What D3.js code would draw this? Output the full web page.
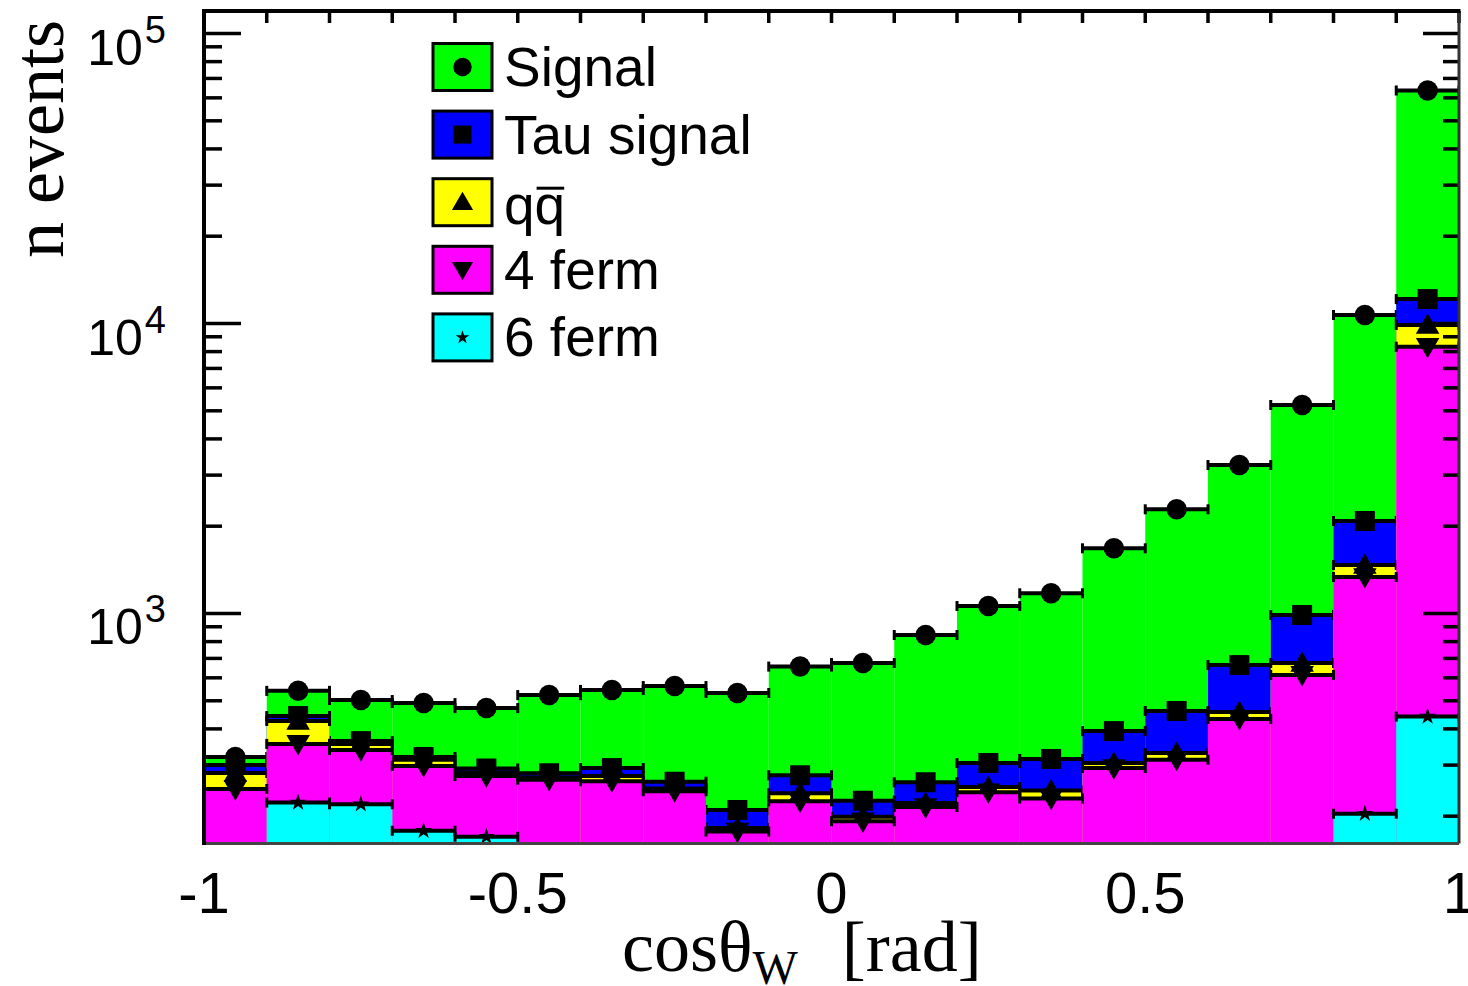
<!DOCTYPE html>
<html>
<head>
<meta charset="utf-8">
<script src="https://cdn.jsdelivr.net/npm/d3@7/dist/d3.min.js"></script>
<style>
  html, body { margin: 0; padding: 0; background: #ffffff; }
  svg { display: block; }
</style>
</head>
<body>
<svg id="chart" width="1468" height="986"></svg>
<script>
// Bin edges of cos(theta_W), 20 bins
const binEdges = [-1.0, -0.9, -0.8, -0.7, -0.6, -0.5, -0.4, -0.3, -0.2, -0.1, 0.0,
                   0.1,  0.2,  0.3,  0.4,  0.5,  0.6,  0.7,  0.8,  0.9, 1.0];

// Event counts per bin for each process
const signal   = [20, 98, 140, 171, 180, 242, 252, 299, 322, 379, 449, 581, 756, 859, 1285, 1826, 2587, 4248, 8616, 51460];
const tauSig   = [18, 17, 8, 7, 9, 9, 18, 14, 28, 37, 27, 40, 53, 70, 88, 131, 207, 313, 614, 2255];
const qqbar    = [34, 71, 17, 15, 8, 5, 11, 5, 5, 15, 7, 7, 10, 15, 12, 17, 24, 61, 134, 1567];
const fourFerm = [118, 132, 118, 120, 105, 127, 144, 144, 87, 140, 112, 130, 152, 135, 193, 203, 313, 474, 1132, 7877];
const sixFerm  = [130, 223, 220, 178, 170, 140, 120, 100, 90, 85, 80, 85, 90, 95, 100, 110, 120, 140, 204, 441];

// Axis ticks and labels
const xTickValues = [-1, -0.5, 0, 0.5, 1];
const xTickLabels = ["-1", "-0.5", "0", "0.5", "1"];
const yTickValues = [1e3, 1e4, 1e5];
const yTickExponents = ["3", "4", "5"];

// Process table, stacked bottom to top
const processes = [
  { key: "sixFerm",  label: "6 ferm",     values: sixFerm,  color: "#00ffff", marker: "star" },
  { key: "fourFerm", label: "4 ferm",     values: fourFerm, color: "#ff00ff", marker: "triDown" },
  { key: "qqbar",    label: "qq",         values: qqbar,    color: "#ffff00", marker: "triUp" },
  { key: "tauSig",   label: "Tau signal", values: tauSig,   color: "#0000ff", marker: "square" },
  { key: "signal",   label: "Signal",     values: signal,   color: "#00ff00", marker: "circle" }
];

const svg = d3.select("#chart");
const frame = { left: 204, right: 1459, top: 11, bottom: 843.5 };

const x = d3.scaleLinear().domain([-1, 1]).range([frame.left, frame.right]);
const y = d3.scaleLog().domain([161, 119580]).range([frame.bottom, frame.top]);

const bins = d3.range(binEdges.length - 1).map(i => ({ lo: binEdges[i], hi: binEdges[i + 1] }));
const rows = bins.map((b, i) => {
  const r = { i };
  processes.forEach(p => { r[p.key] = p.values[i]; });
  return r;
});
const stacked = d3.stack().keys(processes.map(p => p.key))(rows);

svg.append("defs").append("clipPath").attr("id", "plotClip")
  .append("rect")
  .attr("x", frame.left).attr("y", frame.top)
  .attr("width", frame.right - frame.left).attr("height", frame.bottom - frame.top);

// Left axis ticks (drawn beneath the histograms)
const yTicksAll = y.ticks();
const isMajor = v => Math.abs(Math.log10(v) - Math.round(Math.log10(v))) < 1e-9;
svg.append("g").selectAll("line").data(yTicksAll).join("line")
  .attr("x1", frame.left).attr("x2", d => frame.left + (isMajor(d) ? 37 : 18))
  .attr("y1", d => y(d)).attr("y2", d => y(d))
  .attr("stroke", "#000").attr("stroke-width", 3.5);

// Marker symbols
const symbolFor = {
  circle:  d3.symbol().type(d3.symbolCircle).size(330),
  square:  d3.symbol().type(d3.symbolSquare).size(400),
  triUp:   d3.symbol().type(d3.symbolTriangle).size(240),
  triDown: d3.symbol().type(d3.symbolTriangle).size(240),
  star:    d3.symbol().type(d3.symbolStar).size(90)
};
function drawMarker(g, kind, cx, cy, scale) {
  const s = scale || 1;
  const rot = kind === "triDown" ? 180 : 0;
  let dy = 0;
  if (kind === "triUp") dy = 2 * s;
  if (kind === "triDown") dy = -2 * s;
  g.append("path")
    .attr("d", symbolFor[kind]())
    .attr("transform", `translate(${cx},${cy + dy}) rotate(${rot}) scale(${s})`)
    .attr("fill", "#000");
}

// Stacked histogram: each cumulative layer drawn from the top down, as filled bins with markers
const plot = svg.append("g").attr("clip-path", "url(#plotClip)");
for (let li = processes.length - 1; li >= 0; li--) {
  const p = processes[li];
  const layer = stacked[li];
  const g = plot.append("g");
  g.selectAll("rect").data(bins).join("rect")
    .attr("x", d => x(d.lo))
    .attr("width", d => x(d.hi) - x(d.lo))
    .attr("y", (d, i) => Math.min(y(layer[i][1]), frame.bottom))
    .attr("height", (d, i) => Math.max(0, frame.bottom - y(layer[i][1])))
    .attr("fill", p.color);
  const eg = plot.append("g");
  bins.forEach((b, i) => {
    const yy = y(layer[i][1]);
    const x0 = x(b.lo), x1 = x(b.hi);
    eg.append("line").attr("x1", x0).attr("x2", x1).attr("y1", yy).attr("y2", yy)
      .attr("stroke", "#000").attr("stroke-width", 4);
    [x0, x1].forEach(xc => {
      eg.append("line").attr("x1", xc).attr("x2", xc).attr("y1", yy - 5).attr("y2", yy + 5)
        .attr("stroke", "#000").attr("stroke-width", 3);
    });
    drawMarker(eg, p.marker, (x0 + x1) / 2, yy, 1);
  });
}

// Top axis ticks
svg.append("g").selectAll("line").data(binEdges).join("line")
  .attr("x1", d => x(d)).attr("x2", d => x(d))
  .attr("y1", frame.top).attr("y2", frame.top + 12)
  .attr("stroke", "#000").attr("stroke-width", 3.5);

// Right axis ticks
svg.append("g").selectAll("line").data(yTicksAll).join("line")
  .attr("x1", frame.right).attr("x2", d => frame.right - (isMajor(d) ? 36 : 16))
  .attr("y1", d => y(d)).attr("y2", d => y(d))
  .attr("stroke", "#000").attr("stroke-width", 3.5);

// Frame
svg.append("line").attr("x1", frame.right).attr("x2", frame.right)
  .attr("y1", frame.top).attr("y2", frame.bottom).attr("stroke", "#333").attr("stroke-width", 3);
svg.append("line").attr("x1", frame.left).attr("x2", frame.right)
  .attr("y1", frame.bottom).attr("y2", frame.bottom).attr("stroke", "#444").attr("stroke-width", 3);
svg.append("line").attr("x1", frame.left).attr("x2", frame.left)
  .attr("y1", frame.top - 2).attr("y2", frame.bottom + 1.5).attr("stroke", "#000").attr("stroke-width", 4);
svg.append("line").attr("x1", frame.left - 2).attr("x2", frame.right + 1.5)
  .attr("y1", frame.top).attr("y2", frame.top).attr("stroke", "#000").attr("stroke-width", 4);

// X tick labels
svg.append("g").selectAll("text").data(xTickValues).join("text")
  .attr("x", d => x(d)).attr("y", 913)
  .attr("text-anchor", "middle")
  .attr("font-family", "Liberation Sans, Arial, sans-serif")
  .attr("font-size", 58)
  .text((d, i) => xTickLabels[i]);

// Y tick labels: 10^n
const yl = svg.append("g").selectAll("text").data(yTickValues).join("text")
  .attr("x", 166).attr("y", d => y(d) + 31)
  .attr("text-anchor", "end")
  .attr("font-family", "Liberation Sans, Arial, sans-serif")
  .attr("font-size", 50);
yl.append("tspan").text("10");
yl.append("tspan").attr("font-size", 38).attr("dx", 2).attr("dy", -22).text((d, i) => yTickExponents[i]);

// Axis titles
svg.append("text")
  .attr("transform", "translate(63,20) rotate(-90)")
  .attr("text-anchor", "end")
  .attr("font-family", "Liberation Serif, Times New Roman, serif")
  .attr("font-size", 72)
  .text("n events");

const xt = svg.append("text")
  .attr("x", 622).attr("y", 971)
  .attr("font-family", "Liberation Serif, Times New Roman, serif")
  .attr("font-size", 72);
xt.append("tspan").text("cosθ");
xt.append("tspan").attr("font-size", 48).attr("dy", 13).text("W");
xt.append("tspan").attr("dy", -13).attr("dx", 26).text(" [rad]");

// Legend
const legendOrder = processes.slice().reverse();
const leg = svg.append("g");
legendOrder.forEach((p, i) => {
  const cy = 67 + i * 67.6;
  leg.append("rect")
    .attr("x", 433).attr("y", cy - 23.5).attr("width", 59).attr("height", 47)
    .attr("fill", p.color).attr("stroke", "#000").attr("stroke-width", 3);
  const markerScale = p.marker === "star" ? 0.8 : 0.9;
  drawMarker(leg, p.marker, 462.5, cy, markerScale);
  const by = cy + (p.key === "qqbar" ? 22 : 19);
  const t = leg.append("text")
    .attr("x", 504).attr("y", by)
    .attr("font-family", "Liberation Sans, Arial, sans-serif")
    .attr("font-size", 55)
    .text(p.label);
  if (p.key === "qqbar") {
    const node = t.node();
    const off = node.getSubStringLength(0, 1);
    const w = node.getSubStringLength(1, 1);
    leg.append("line")
      .attr("x1", 504 + off + 2).attr("x2", 504 + off + w - 1)
      .attr("y1", by - 36).attr("y2", by - 36)
      .attr("stroke", "#000").attr("stroke-width", 3);
  }
});
</script>
</body>
</html>
